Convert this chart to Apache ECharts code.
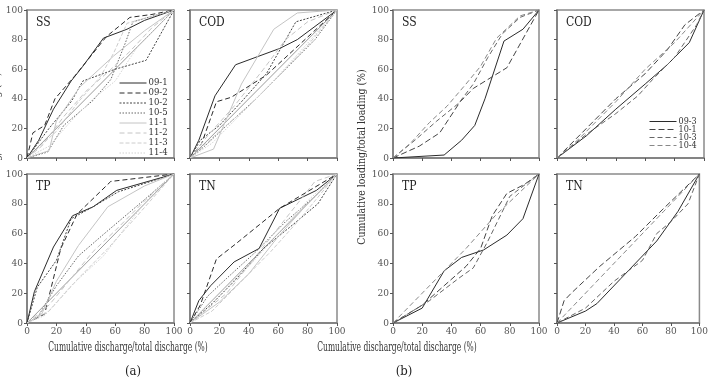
<!DOCTYPE html>
<html>
<head>
<meta charset="utf-8">
<script src="https://cdn.jsdelivr.net/npm/echarts@6/dist/echarts.min.js"></script>
<style>
  html, body { margin: 0; padding: 0; background: #fff; }
  #chart { width: 711px; height: 383px; }
</style>
</head>
<body>
<div id="chart"></div>
<script>
// ticks on both axes of every panel
const ticks = [0, 20, 40, 60, 80, 100];
const panelTitles = ['SS', 'COD', 'TP', 'TN'];

// (a) storm events
const namesA = ['09-1', '09-2', '10-2', '10-5', '11-1', '11-2', '11-3', '11-4'];
// 1:1 line
const diagonal = [[0, 0], [100, 100]];

// each list: one [discharge %, loading %] curve per event, order as namesA
const aSS = [
  [[0,0],[8,12],[18,33],[30,52],[38,62],[52,81],[68,87],[80,93],[100,100]],
  [[0,0],[4,17],[12,22],[19,40],[33,56],[54,82],[70,95],[85,97],[100,100]],
  [[0,0],[15,20],[30,38],[38,52],[60,60],[81,66],[100,100]],
  [[0,0],[14,4],[25,22],[45,39],[57,53],[67,78],[72,92],[100,100]],
  [[0,0],[15,5],[20,25],[36,48],[59,69],[80,86],[100,100]],
  [[0,0],[10,8],[25,28],[40,45],[55,58],[70,72],[85,88],[100,100]],
  [[0,0],[20,18],[35,38],[50,55],[59,71],[68,91],[100,100]],
  [[0,0],[15,8],[30,25],[45,40],[60,52],[75,75],[100,100]]
];
const aCOD = [
  [[0,0],[6,12],[17,42],[31,63],[61,74],[73,80],[100,100]],
  [[0,0],[8,10],[18,38],[28,41],[52,56],[100,100]],
  [[0,0],[7,12],[20,22],[35,38],[52,57],[72,92],[100,100]],
  [[0,0],[10,8],[25,22],[45,40],[65,60],[85,80],[100,100]],
  [[0,0],[16,6],[35,50],[57,87],[73,98],[100,100]],
  [[0,0],[12,15],[30,35],[50,60],[65,80],[80,92],[100,100]],
  [[0,0],[20,18],[40,35],[60,55],[80,76],[100,100]],
  [[0,0],[15,10],[35,30],[55,50],[75,72],[100,100]]
];
const aTP = [
  [[0,0],[5,21],[18,51],[31,72],[45,78],[61,89],[100,100]],
  [[0,0],[12,6],[23,50],[34,73],[57,95],[100,100]],
  [[0,0],[7,24],[20,42],[30,70],[45,78],[62,88],[100,100]],
  [[0,0],[8,5],[20,25],[35,45],[55,62],[79,82],[100,100]],
  [[0,0],[10,6],[20,28],[35,52],[55,78],[80,92],[100,100]],
  [[0,0],[15,12],[30,30],[45,48],[60,62],[80,82],[100,100]],
  [[0,0],[15,8],[35,30],[55,50],[75,72],[100,100]],
  [[0,0],[12,5],[30,25],[52,45],[70,68],[88,90],[100,100]]
];
const aTN = [
  [[0,0],[6,15],[14,25],[30,41],[47,50],[61,77],[86,89],[100,100]],
  [[0,0],[7,12],[18,43],[31,53],[61,77],[100,100]],
  [[0,0],[15,13],[30,28],[50,50],[70,66],[87,80],[100,100]],
  [[0,0],[12,18],[25,30],[45,48],[65,68],[85,85],[100,100]],
  [[0,0],[20,14],[40,33],[60,58],[80,80],[100,100]],
  [[0,0],[25,20],[45,45],[65,70],[85,95],[100,100]],
  [[0,0],[15,8],[35,28],[55,48],[75,70],[100,100]],
  [[0,0],[20,20],[40,38],[60,60],[80,82],[100,100]]
];

// (b) storm events
const namesB = ['09-3', '10-1', '10-3', '10-4'];
const bSS = [
  [[0,0],[35,2],[47,12],[56,22],[63,40],[76,79],[89,87],[100,100]],
  [[0,0],[18,8],[32,17],[46,38],[55,47],[78,61],[100,100]],
  [[0,0],[15,12],[30,25],[45,37],[55,50],[65,68],[75,84],[87,95],[100,100]],
  [[0,0],[12,10],[25,24],[37,35],[50,50],[60,62],[71,81],[87,96],[100,100]]
];
const bCOD = [
  [[0,0],[20,15],[40,33],[60,50],[75,63],[90,78],[100,100]],
  [[0,0],[20,20],[40,40],[60,57],[75,73],[87,90],[100,100]],
  [[0,0],[20,16],[40,30],[55,42],[65,53],[80,68],[95,90],[100,100]],
  [[0,0],[15,13],[40,38],[60,60],[80,78],[100,100]]
];
const bTP = [
  [[0,0],[20,10],[35,35],[47,44],[62,49],[78,59],[89,70],[100,100]],
  [[0,0],[20,12],[35,25],[50,38],[60,50],[68,72],[78,87],[90,93],[100,100]],
  [[0,0],[25,15],[45,30],[55,37],[65,55],[80,85],[100,100]],
  [[0,0],[30,30],[50,50],[70,72],[100,100]]
];
const bTN = [
  [[0,0],[20,8],[28,13],[45,30],[60,45],[70,55],[85,75],[100,100]],
  [[0,0],[5,15],[10,20],[30,38],[55,58],[75,77],[100,100]],
  [[0,0],[20,10],[40,28],[60,42],[70,60],[80,68],[92,80],[100,100]],
  [[0,0],[25,25],[50,50],[75,75],[100,100]]
];

const FONT = '"DejaVu Serif Condensed", "DejaVu Serif", serif';

const styleA = [
  { color: '#2b2b2b', type: 'solid' },
  { color: '#2b2b2b', type: [5, 3] },
  { color: '#444', type: [2, 1.5] },
  { color: '#666', type: [1.5, 1.5] },
  { color: '#c4c4c4', type: 'solid' },
  { color: '#c4c4c4', type: [5, 3] },
  { color: '#cccccc', type: [4, 2] },
  { color: '#d2d2d2', type: [1.5, 1.5] }
];
const styleB = [
  { color: '#2b2b2b', type: 'solid' },
  { color: '#444', type: [6, 3] },
  { color: '#666', type: [5, 3] },
  { color: '#888', type: [5, 3] }
];

// panel boxes: [left, top, width, height]
const boxes = [
  [27, 10, 147, 148], [190, 10, 147, 148], [27, 174, 147, 149], [190, 174, 147, 149],
  [393, 10, 146, 148], [557, 10, 147, 148], [393, 174, 146, 149], [557, 174, 147, 149]
];
const panelData = [aSS, aCOD, aTP, aTN, bSS, bCOD, bTP, bTN];

const grids = [], xAxes = [], yAxes = [], series = [], graphics = [];

boxes.forEach((b, i) => {
  const isLeft = i % 2 === 0;
  const isBottom = (i % 4) >= 2;
  grids.push({ left: b[0], top: b[1], width: b[2], height: b[3],
    show: true, borderColor: '#8a8a8a', borderWidth: 1.5, backgroundColor: 'transparent' });
  const axisCommon = {
    type: 'value', min: 0, max: 100, interval: 20, gridIndex: i,
    axisLine: { show: true, onZero: false, lineStyle: { color: '#7a7a7a', width: 1.5 } },
    axisTick: { show: true, inside: false, length: 3, lineStyle: { color: '#555' } },
    splitLine: { show: false }
  };
  xAxes.push(Object.assign({}, axisCommon, {
    axisLabel: { show: isBottom, margin: 3, color: '#555', fontSize: 10, fontFamily: FONT,
      formatter: v => ticks.includes(v) ? String(v) : '' }
  }));
  yAxes.push(Object.assign({}, axisCommon, {
    axisLabel: { show: isLeft, margin: 4, color: '#555', fontSize: 10, fontFamily: FONT,
      formatter: v => ticks.includes(v) ? String(v) : '' }
  }));

  const inA = i < 4;
  const names = inA ? namesA : namesB;
  const styles = inA ? styleA : styleB;
  if (inA) {
    series.push({ type: 'line', name: '1:1', xAxisIndex: i, yAxisIndex: i, data: diagonal,
      symbol: 'none', silent: true, lineStyle: { color: '#9a9a9a', width: 1 } });
  }
  panelData[i].forEach((curve, k) => {
    series.push({
      type: 'line', name: names[k], xAxisIndex: i, yAxisIndex: i, data: curve,
      symbol: 'none', animation: false,
      itemStyle: { color: styles[k].color },
      lineStyle: { color: styles[k].color, type: styles[k].type, width: 1 }
    });
  });

  graphics.push({ type: 'text', left: b[0] + 9, top: b[1] + 7,
    style: { text: panelTitles[i % 4], font: '12px ' + FONT, fill: '#222' } });
});

// axis titles and figure captions
const xTitle = 'Cumulative discharge/total discharge (%)';
const yTitle = 'Cumulative loading/total loading (%)';
graphics.push(
  { type: 'text', x: 128, y: 348, scaleX: 0.7, style: { text: xTitle,
    font: '12px ' + FONT, fill: '#333', textAlign: 'center', textVerticalAlign: 'middle' } },
  { type: 'text', x: 397, y: 348, scaleX: 0.7, style: { text: xTitle,
    font: '12px ' + FONT, fill: '#333', textAlign: 'center', textVerticalAlign: 'middle' } },
  { type: 'text', x: 133, y: 372, style: { text: '(a)', font: '13px ' + FONT, fill: '#222',
    textAlign: 'center', textVerticalAlign: 'middle' } },
  { type: 'text', x: 404, y: 372, style: { text: '(b)', font: '13px ' + FONT, fill: '#222',
    textAlign: 'center', textVerticalAlign: 'middle' } },
  { type: 'text', x: 362, y: 157, rotation: Math.PI / 2, scaleX: 0.95, style: { text: yTitle,
    font: '11px ' + FONT, fill: '#333', textAlign: 'center', textVerticalAlign: 'middle' } },
  { type: 'text', x: -3, y: 160, rotation: Math.PI / 2, scaleX: 0.95, style: { text: yTitle,
    font: '11px ' + FONT, fill: '#333', textAlign: 'center', textVerticalAlign: 'middle' } }
);

const chart = echarts.init(document.getElementById('chart'), null, { renderer: 'canvas' });
chart.setOption({
  animation: false,
  backgroundColor: '#fff',
  grid: grids,
  xAxis: xAxes,
  yAxis: yAxes,
  legend: [
    { data: namesA, orient: 'vertical', left: 119, top: 78, itemWidth: 27, itemHeight: 8, itemGap: 0,
      padding: 0, selectedMode: false, itemStyle: { opacity: 0 }, lineStyle: { width: 1 },
      textStyle: { fontSize: 9.5, fontFamily: FONT, color: '#333', padding: [0, 0, 0, -3] } },
    { data: namesB, orient: 'vertical', left: 649, top: 117, itemWidth: 27, itemHeight: 7, itemGap: -1,
      padding: 0, selectedMode: false, itemStyle: { opacity: 0 }, lineStyle: { width: 1 },
      textStyle: { fontSize: 9, fontFamily: FONT, color: '#333', padding: [0, 0, 0, -3] } }
  ],
  series: series,
  graphic: graphics
});
</script>
</body>
</html>
